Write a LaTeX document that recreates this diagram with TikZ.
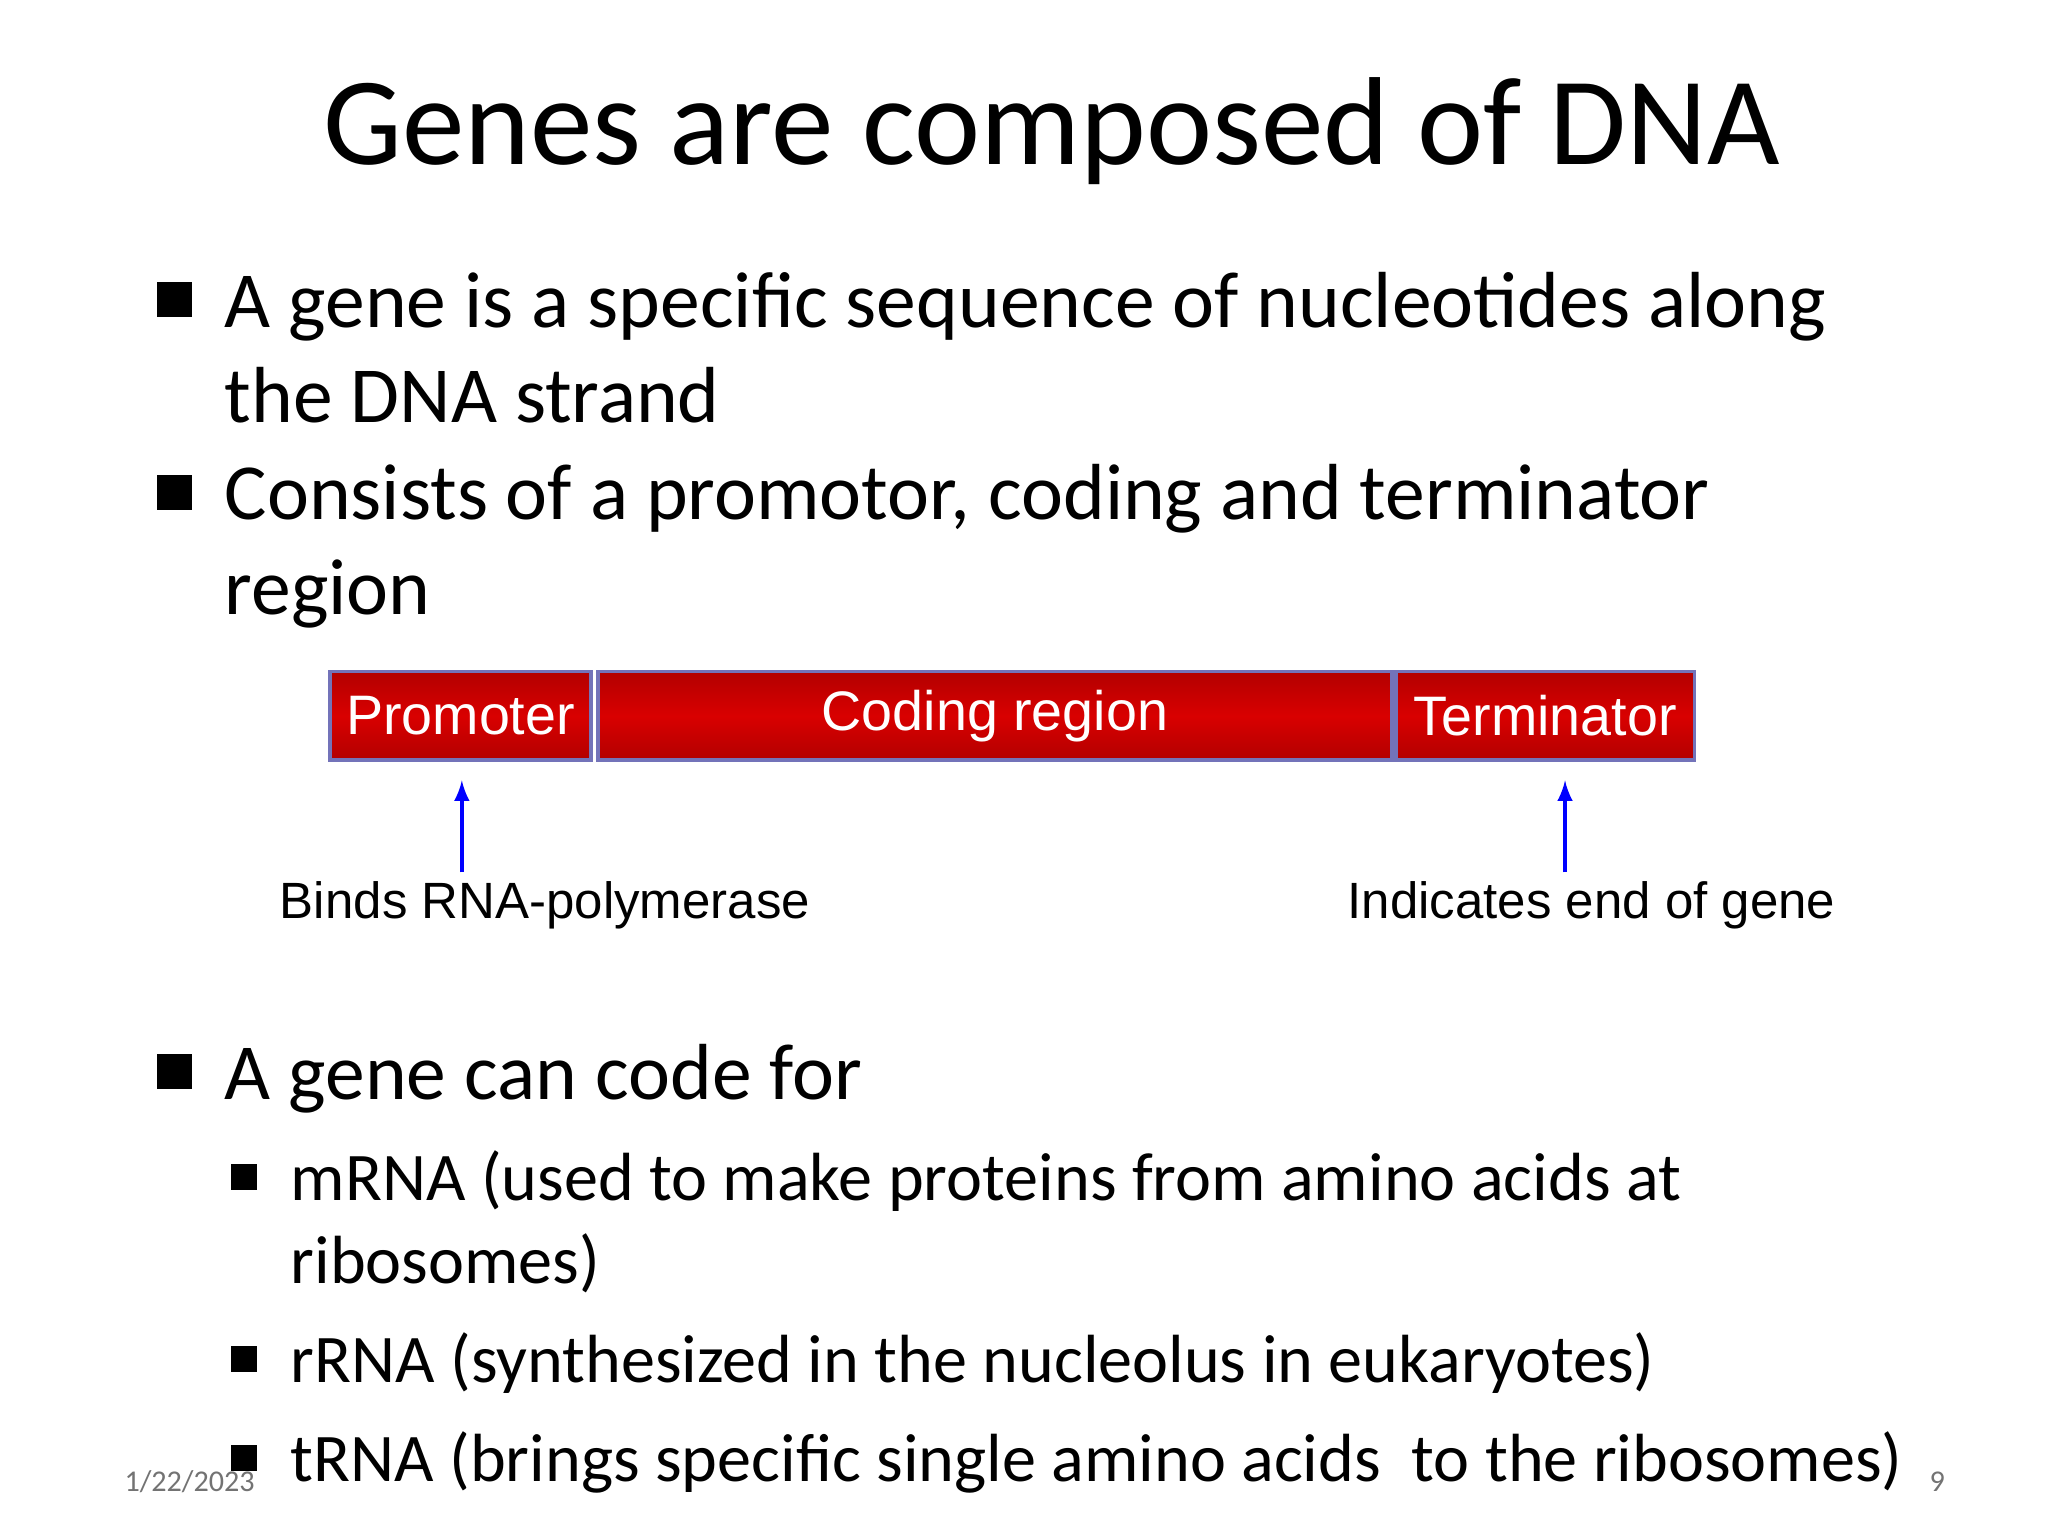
\documentclass[tikz,border=0pt]{standalone}
\usepackage{fontspec}
\setmainfont{Carlito}
\newfontfamily\arialf{Liberation Sans}
\usetikzlibrary{fit}
\begin{document}
\begin{tikzpicture}[x=0.02cm,y=-0.02cm,
  bul/.style={anchor=base west,inner sep=0,font=\fontsize{34.3}{42}\selectfont},
  sbul/.style={anchor=base west,inner sep=0,font=\fontsize{29.4}{37}\selectfont},
  sq/.style={fill=black,minimum size=15,inner sep=0},
  ssq/.style={fill=black,minimum size=11,inner sep=0},
  gbox/.style={draw=black!50!blue!55,line width=1.5pt,top color=red!70!black,bottom color=red!70!black,middle color=red!85!black,inner sep=0},
  btext/.style={text=white,font=\arialf\fontsize{24}{28}\selectfont,inner sep=0},
  lab/.style={font=\arialf\fontsize{22}{26}\selectfont,inner sep=0},
  arr/.style={blue,line width=2pt,-latex}]
\useasboundingbox[fill=white] (0,0) rectangle (1552,1164);
\node[anchor=base,inner sep=0,font=\fontsize{54}{60}\selectfont] (title) at (797,125) {Genes are composed of DNA};
\node[sq] (s1) at (132,227) {};
\node[bul] (t1) at (170,248) {A gene is a specific sequence of nucleotides along};
\node[bul] (t1b) at (170,320) {the DNA strand};
\node[sq] (s2) at (132,373) {};
\node[bul] (t2) at (170,394) {Consists of a promotor, coding and terminator};
\node[bul] (t2b) at (170,466) {region};
\node[gbox,fit={(250,509)(448,576)}] (prom) {};
\node[gbox,fit={(453,509)(1055,576)}] (cod) {};
\node[gbox,fit={(1058,509)(1284,576)}] (term) {};
\node[btext] (promt) at (prom) {Promoter};
\node[btext] (codt) at (cod) {Coding region};
\node[btext] (termt) at (term) {Terminator};
\node[lab] (l1) at (413,686) {Binds RNA-polymerase};
\node[lab] (l2) at (1206,686) {Indicates end of gene};
\coordinate (a1) at (350,661);
\coordinate (a2) at (1186,661);
\draw[arr] (a1) -- ([yshift=-8]prom.south -| a1);
\draw[arr] (a2) -- ([yshift=-8]term.south -| a2);
\node[sq] (s3) at (132,812) {};
\node[bul] (t3) at (170,833) {A gene can code for};
\node[ssq] (q1) at (185,892) {};
\node[sbul] (u1) at (220,910) {mRNA (used to make proteins from amino acids at};
\node[sbul] (u1b) at (220,973) {ribosomes)};
\node[ssq] (q2) at (185,1030) {};
\node[sbul] (u2) at (220,1048) {rRNA (synthesized in the nucleolus in eukaryotes)};
\node[ssq] (q3) at (185,1105) {};
\node[sbul] (u3) at (220,1123) {tRNA (brings specific single amino acids\ \ to the ribosomes)};
\node[anchor=base west,inner sep=0,text=black!55,font=\fontsize{13}{15}\selectfont] (d) at (94,1130) {1/22/2023};
\node[anchor=base west,inner sep=0,text=black!55,font=\fontsize{13}{15}\selectfont] (p) at (1462,1130) {9};
\end{tikzpicture}
\end{document}
